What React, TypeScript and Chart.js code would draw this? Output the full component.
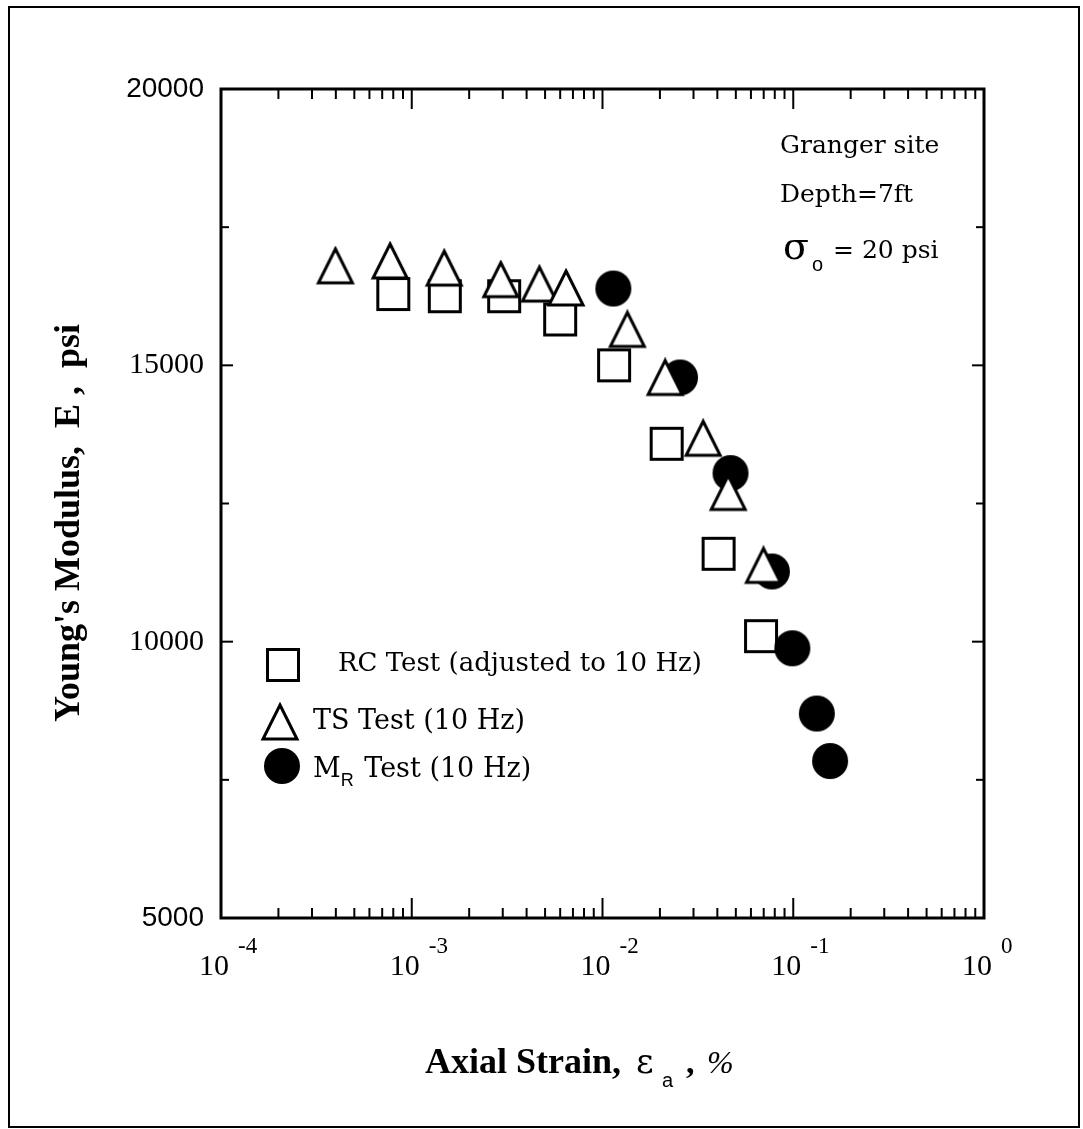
import { useEffect, useRef } from 'react';
import { Chart, registerables } from 'chart.js';

Chart.register(...registerables);

// RC test (adjusted to 10 Hz)
const rcStrain = [8.0e-4, 1.49e-3, 3.05e-3, 6.0e-3, 1.15e-2, 2.17e-2, 4.06e-2, 6.78e-2];
const rcModulus = [16290, 16250, 16250, 15830, 15000, 13580, 11590, 10100];

// TS test (10 Hz)
const tsStrain = [3.98e-4, 7.7e-4, 1.48e-3, 2.93e-3, 4.67e-3, 6.44e-3, 1.35e-2, 2.13e-2, 3.37e-2, 4.56e-2, 6.98e-2];
const tsModulus = [16800, 16890, 16760, 16550, 16470, 16400, 15650, 14780, 13680, 12700, 11380];

// MR test (10 Hz)
const mrStrain = [1.14e-2, 2.55e-2, 4.69e-2, 7.73e-2, 9.89e-2, 0.133, 0.156];
const mrModulus = [16390, 14780, 13050, 11270, 9880, 8700, 7840];

// axis ticks
const xExponents = [-4, -3, -2, -1, 0];
const yLabelValues = [5000, 10000, 15000, 20000];
const yLabelTexts = ['5000', '10000', '15000', '20000'];
const yMinorStep = 2500;

const W = 1083;
const H = 1129;

function makeSquare(): HTMLCanvasElement {
  const c = document.createElement('canvas');
  c.width = 38;
  c.height = 38;
  const g = c.getContext('2d')!;
  g.fillStyle = '#fff';
  g.fillRect(3, 3, 32, 32);
  g.strokeStyle = '#000';
  g.lineWidth = 3;
  g.strokeRect(3.5, 3.5, 31, 31);
  return c;
}

function makeTriangle(): HTMLCanvasElement {
  const c = document.createElement('canvas');
  c.width = 40;
  c.height = 40;
  const g = c.getContext('2d')!;
  g.beginPath();
  g.moveTo(20, 3);
  g.lineTo(37, 37);
  g.lineTo(3, 37);
  g.closePath();
  g.fillStyle = '#fff';
  g.fill();
  g.strokeStyle = '#000';
  g.lineWidth = 3;
  g.lineJoin = 'miter';
  g.miterLimit = 3;
  g.stroke();
  return c;
}

function makeDot(): HTMLCanvasElement {
  const c = document.createElement('canvas');
  c.width = 38;
  c.height = 38;
  const g = c.getContext('2d')!;
  g.beginPath();
  g.arc(19, 19, 18, 0, Math.PI * 2);
  g.fillStyle = '#000';
  g.fill();
  return c;
}

function put(
  ctx: CanvasRenderingContext2D,
  s: string,
  x: number,
  y: number,
  font: string,
  align: CanvasTextAlign = 'left',
  baseline: CanvasTextBaseline = 'alphabetic'
): number {
  ctx.font = font;
  ctx.textAlign = align;
  ctx.textBaseline = baseline;
  ctx.fillText(s, x, y);
  return ctx.measureText(s).width;
}

function seg(ctx: CanvasRenderingContext2D, x1: number, y1: number, x2: number, y2: number) {
  ctx.beginPath();
  ctx.moveTo(x1, y1);
  ctx.lineTo(x2, y2);
  ctx.stroke();
}

export default function App() {
  const ref = useRef<HTMLCanvasElement | null>(null);

  useEffect(() => {
    const canvas = ref.current;
    if (!canvas) return;
    const sq = makeSquare();
    const tri = makeTriangle();
    const dot = makeDot();

    const serif = '"Liberation Serif", "Times New Roman", serif';
    const sans = '"Liberation Sans", Arial, sans-serif';
    const book = '"DejaVu Serif", serif';

    const decorations = {
      id: 'decorations',
      beforeDatasetsDraw(chart: any) {
        const { ctx, chartArea: a, scales } = chart;
        const xs = scales.x;
        const ys = scales.y;
        ctx.save();
        ctx.strokeStyle = '#000';
        ctx.fillStyle = '#000';

        // page frame
        ctx.lineWidth = 2;
        ctx.strokeRect(9, 7, 1070, 1120);

        // plot box
        ctx.lineWidth = 3;
        ctx.strokeRect(a.left, a.top, a.right - a.left, a.bottom - a.top);

        // log ticks on bottom and top, pointing inward
        ctx.lineWidth = 2;
        for (const e of xExponents) {
          for (let m = 1; m <= 9; m++) {
            if (e === 0 && m > 1) break;
            const px = xs.getPixelForValue(m * Math.pow(10, e));
            const len = m === 1 ? 20 : 10;
            seg(ctx, px, a.bottom, px, a.bottom - len);
            seg(ctx, px, a.top, px, a.top + len);
          }
        }

        // linear ticks on left and right, pointing inward
        for (let v = ys.min; v <= ys.max; v += yMinorStep) {
          const py = ys.getPixelForValue(v);
          const len = v % 5000 === 0 ? 12 : 8;
          seg(ctx, a.left, py, a.left + len, py);
          seg(ctx, a.right, py, a.right - len, py);
        }

        // y tick labels
        yLabelValues.forEach((v, i) => {
          const py = ys.getPixelForValue(v);
          const f = v === 5000 || v === 20000 ? `28px ${sans}` : `30px ${serif}`;
          put(ctx, yLabelTexts[i], a.left - 17, py, f, 'right', 'middle');
        });

        // x tick labels: 10 with a raised exponent
        xExponents.forEach((e) => {
          const px = xs.getPixelForValue(Math.pow(10, e));
          put(ctx, '10', px + 8, 975, `30px ${serif}`, 'right');
          put(ctx, e === 0 ? '0' : `-${Math.abs(e)}`, px + 17, 953, `23px ${serif}`, 'left');
        });

        // y axis title
        ctx.save();
        ctx.translate(79, 523);
        ctx.rotate(-Math.PI / 2);
        put(ctx, "Young's Modulus,  E ,  psi", 0, 0, `bold 36px ${serif}`, 'center');
        ctx.restore();

        // x axis title
        put(ctx, 'Axial Strain,', 425, 1073, `bold 36px ${serif}`);
        put(ctx, 'ε', 636, 1073, `34px ${book}`);
        put(ctx, 'a', 662, 1087, `20px ${sans}`);
        put(ctx, ',', 686, 1073, `bold 34px ${serif}`);
        put(ctx, '%', 707, 1073, `italic 32px ${serif}`);

        ctx.restore();
      },
      afterDatasetsDraw(chart: any) {
        const { ctx } = chart;
        ctx.save();
        ctx.fillStyle = '#000';

        // site note
        put(ctx, 'Granger site', 780, 153, `25px ${book}`);
        put(ctx, 'Depth=7ft', 780, 202, `25px ${book}`);
        put(ctx, 'σ', 783, 259, `38px ${book}`);
        put(ctx, 'o', 812, 271, `20px ${sans}`);
        put(ctx, '= 20 psi', 833, 258, `25px ${book}`);

        // legend
        ctx.drawImage(sq, 283 - sq.width / 2, 665 - sq.height / 2);
        put(ctx, 'RC Test (adjusted to 10 Hz)', 338, 671, `26px ${book}`);
        ctx.drawImage(tri, 280 - tri.width / 2, 722 - tri.height / 2);
        put(ctx, 'TS Test (10 Hz)', 313, 729, `27px ${book}`);
        ctx.drawImage(dot, 282 - dot.width / 2, 766 - dot.height / 2);
        let x = 313;
        x += put(ctx, 'M', x, 777, `27px ${book}`);
        x += put(ctx, 'R', x, 786, `18px ${sans}`);
        put(ctx, ' Test (10 Hz)', x + 2, 777, `27px ${book}`);

        ctx.restore();
      },
    };

    const chart = new Chart(canvas, {
      type: 'scatter',
      data: {
        datasets: [
          {
            label: 'TS Test (10 Hz)',
            data: tsStrain.map((x, i) => ({ x, y: tsModulus[i] })),
            pointStyle: tri,
            pointRadius: 18,
            order: 0,
          },
          {
            label: 'MR Test (10 Hz)',
            data: mrStrain.map((x, i) => ({ x, y: mrModulus[i] })),
            pointStyle: dot,
            pointRadius: 18,
            order: 1,
          },
          {
            label: 'RC Test (adjusted to 10 Hz)',
            data: rcStrain.map((x, i) => ({ x, y: rcModulus[i] })),
            pointStyle: sq,
            pointRadius: 18,
            order: 2,
          },
        ],
      },
      options: {
        animation: false,
        responsive: false,
        devicePixelRatio: 1,
        events: [],
        layout: { padding: { left: 221, right: W - 984, top: 89, bottom: H - 918 } },
        plugins: { legend: { display: false }, tooltip: { enabled: false } },
        scales: {
          x: { type: 'logarithmic', min: 1e-4, max: 1, display: false },
          y: { type: 'linear', min: 5000, max: 20000, display: false },
        },
      },
      plugins: [decorations],
    } as any);

    return () => chart.destroy();
  }, []);

  return (
    <div style={{ position: 'fixed', left: 0, top: 0, width: W, height: H, background: '#fff' }}>
      <canvas ref={ref} width={W} height={H} style={{ display: 'block' }} />
    </div>
  );
}
